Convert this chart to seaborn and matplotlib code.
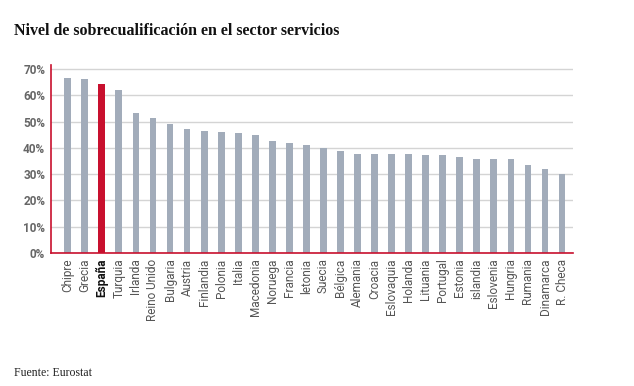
import numpy as np
import pandas as pd
import seaborn as sns
import matplotlib.pyplot as plt

paises = ["Chipre", "Grecia", "España", "Turquia", "Irlanda", "Reino Unido",
          "Bulgaria", "Austria", "Finlandia", "Polonia", "Italia", "Macedonia",
          "Noruega", "Francia", "letonia", "Suecia", "Bélgica", "Alemania",
          "Croacia", "Eslovaquia", "Holanda", "Lituania", "Portugal", "Estonia",
          "islandia", "Eslovenia", "Hungria", "Rumania", "Dinamarca", "R. Checa"]
valores = [66.5, 66.3, 64.3, 62.0, 53.4, 51.5, 49.2, 47.1, 46.3, 46.0, 45.6, 44.9,
           42.5, 42.0, 41.2, 40.0, 38.7, 37.8, 37.8, 37.6, 37.6, 37.4, 37.1, 36.5,
           35.9, 35.7, 35.7, 33.6, 31.8, 29.9]
destacado = "España"

gris = "#a2acba"
rojo = "#c8102e"

df = pd.DataFrame({"pais": paises, "valor": valores})
df["grupo"] = np.where(df["pais"] == destacado, "es", "otros")

sns.set_style("white")
plt.rcParams["font.family"] = ["Roboto", "DejaVu Sans"]

fig = plt.figure(figsize=(6.34, 3.86), dpi=100)
ax = fig.add_axes([0.080, 0.3446, 0.824, 0.487])

sns.barplot(data=df, x="pais", y="valor", hue="grupo",
            palette={"es": rojo, "otros": gris}, dodge=False, saturation=1,
            width=0.40, legend=False, ax=ax, linewidth=0, zorder=2)

ax.set_xlim(-1.0, 29.65)
ax.set_ylim(0, 71.5)
ax.set_yticks(range(0, 71, 10))
ax.set_yticklabels([f"{v}%" for v in range(0, 71, 10)],
                   fontsize=8.5, color="#666666", fontweight="bold")
ax.yaxis.grid(True, color="#d4d4d4", linewidth=1, zorder=0)
ax.set_axisbelow(True)
ax.tick_params(axis="both", length=0, pad=4)
ax.set_xlabel("")
ax.set_ylabel("")

for lab in ax.get_xticklabels():
    lab.set_rotation(90)
    lab.set_fontsize(8.5)
    lab.set_color("#555555")
    if lab.get_text() == destacado:
        lab.set_fontweight("bold")
        lab.set_color("#111111")

for s in ["top", "right"]:
    ax.spines[s].set_visible(False)
for s in ["left", "bottom"]:
    ax.spines[s].set_color(rojo)
    ax.spines[s].set_linewidth(1.2)
    ax.spines[s].set_zorder(5)

fig.text(14 / 634, 1 - 31 / 386, "Nivel de sobrecualificación en el sector servicios",
         family=["Liberation Serif", "DejaVu Serif"], fontweight="bold",
         fontsize=11.5, color="#111111", va="center")
fig.text(14 / 634, 1 - 373 / 386, "Fuente: Eurostat",
         family=["Liberation Serif", "DejaVu Serif"], fontsize=8.5,
         color="#222222", va="center")

fig.savefig("out.png", dpi=100, facecolor="white")
